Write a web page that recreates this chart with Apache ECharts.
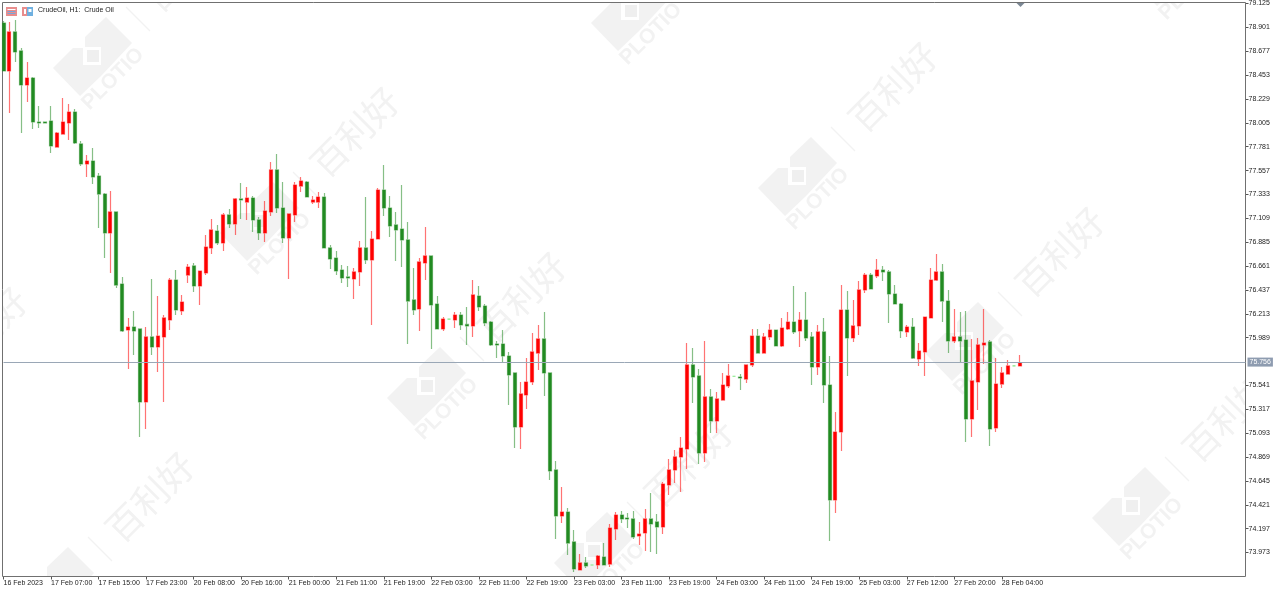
<!DOCTYPE html>
<html><head><meta charset="utf-8"><style>html,body{margin:0;padding:0;background:#fff}#c{width:1282px;height:590px}</style>
<script src="https://cdn.jsdelivr.net/npm/echarts@6/dist/echarts.min.js"></script></head><body><div id="c"></div>
<script>
const chartTitle = "CrudeOil, H1:  Crude Oil";
const lastPrice = 75.756;
const timeLabels = ["16 Feb 2023","17 Feb 07:00","17 Feb 15:00","17 Feb 23:00","20 Feb 08:00","20 Feb 16:00","21 Feb 00:00","21 Feb 11:00","21 Feb 19:00","22 Feb 03:00","22 Feb 11:00","22 Feb 19:00","23 Feb 03:00","23 Feb 11:00","23 Feb 19:00","24 Feb 03:00","24 Feb 11:00","24 Feb 19:00","25 Feb 03:00","27 Feb 12:00","27 Feb 20:00","28 Feb 04:00"];
const priceTicks = [79.125,78.901,78.677,78.453,78.229,78.005,77.781,77.557,77.333,77.109,76.885,76.661,76.437,76.213,75.989,75.541,75.317,75.093,74.869,74.645,74.421,74.197,73.973];
const opens = [78.942,78.492,78.858,78.680,78.360,78.426,78.013,78.013,78.022,77.778,
77.900,78.004,78.107,77.807,77.619,77.647,77.506,77.337,76.972,77.169,
76.493,76.061,76.089,76.071,75.386,75.996,75.902,75.996,76.155,76.530,
76.240,76.577,76.662,76.474,76.596,76.831,76.990,76.878,77.141,77.056,
77.291,77.262,77.300,77.094,76.972,77.169,77.563,77.206,76.925,77.141,
77.412,77.450,77.262,77.262,77.309,76.831,76.737,76.624,76.559,76.540,
76.606,76.831,76.718,76.915,77.375,77.206,77.047,77.009,76.906,76.343,
76.258,76.690,76.756,76.305,76.071,76.164,76.155,76.202,76.113,76.099,
76.380,76.286,76.136,75.930,75.930,75.817,75.658,75.151,75.451,75.573,
75.845,75.977,75.658,74.748,74.316,74.353,74.072,73.809,73.875,73.856,
73.856,73.931,73.865,74.194,74.325,74.297,74.288,74.128,74.156,74.288,
74.260,74.213,74.607,74.748,74.870,74.945,75.733,75.630,74.907,75.433,
75.207,75.404,75.536,75.627,75.620,75.601,75.733,76.005,75.845,75.996,
76.061,75.911,76.071,76.136,76.052,76.155,75.996,75.714,76.043,75.545,
74.466,75.104,76.249,75.986,76.099,76.437,76.577,76.568,76.624,76.606,
76.399,76.305,76.043,76.089,75.789,75.855,76.174,76.530,76.606,76.333,
75.958,75.996,75.967,75.226,75.573,75.921,75.949,75.142,75.554,75.648,
75.724,75.724];
const closes = [78.492,78.858,78.670,78.360,78.426,78.013,78.004,78.004,77.788,77.910,
78.013,78.107,77.816,77.619,77.647,77.497,77.337,76.972,77.169,76.483,
76.052,76.089,76.052,75.386,75.996,75.902,76.005,76.174,76.530,76.249,
76.324,76.652,76.474,76.615,76.840,77.000,76.878,77.141,77.056,77.291,
77.281,77.300,77.094,76.972,77.178,77.563,77.206,76.925,77.150,77.422,
77.459,77.309,77.281,77.309,76.831,76.728,76.615,76.549,76.549,76.606,
76.831,76.718,76.915,77.375,77.206,77.037,77.000,76.906,76.333,76.249,
76.700,76.756,76.296,76.071,76.164,76.164,76.202,76.108,76.099,76.390,
76.277,76.127,75.921,75.921,75.817,75.639,75.151,75.461,75.573,75.855,
75.977,75.658,74.738,74.316,74.353,74.062,73.819,73.875,73.847,73.856,
73.940,73.856,74.203,74.325,74.288,74.288,74.119,74.147,74.288,74.241,
74.213,74.616,74.748,74.870,74.954,75.733,75.620,74.907,75.433,75.207,
75.414,75.545,75.630,75.627,75.611,75.733,76.005,75.845,75.996,76.061,
75.911,76.080,76.136,76.043,76.155,75.986,75.714,76.043,75.545,74.466,
75.104,76.249,75.986,76.099,76.437,76.577,76.446,76.624,76.606,76.399,
76.305,76.052,76.089,75.798,75.864,76.183,76.530,76.606,76.333,75.958,
75.996,75.958,75.226,75.583,75.921,75.939,75.132,75.554,75.658,75.724,
75.724,75.756];
const lows = [78.492,78.098,78.576,77.910,78.201,77.947,77.957,78.004,77.722,77.778,
77.900,77.844,77.807,77.600,77.497,77.431,77.018,76.737,76.596,76.455,
76.043,75.695,75.827,75.057,75.132,75.827,75.667,75.386,76.061,76.202,
76.202,76.502,76.418,76.296,76.577,76.775,76.859,76.803,77.018,76.953,
77.103,77.094,76.981,76.906,76.887,77.131,77.159,76.878,76.540,77.075,
77.356,77.309,77.244,77.206,76.831,76.634,76.577,76.502,76.465,76.352,
76.474,76.681,76.108,76.915,77.131,76.934,76.709,76.652,75.930,76.202,
76.052,76.530,75.883,76.071,76.052,76.164,76.080,76.061,75.921,75.996,
76.240,76.099,75.911,75.798,75.761,75.357,74.954,74.945,75.320,75.545,
75.686,75.442,74.654,74.100,74.250,73.950,73.790,73.809,73.828,73.856,
73.819,73.856,73.837,74.091,74.250,74.203,74.100,74.044,73.987,73.978,
73.959,74.147,74.513,74.626,74.541,74.757,75.376,74.804,74.823,75.095,
75.095,75.404,75.517,75.627,75.498,75.564,75.714,75.845,75.845,75.967,
75.911,75.902,76.061,76.024,75.902,75.958,75.545,75.639,75.376,74.081,
74.344,74.926,75.630,75.949,76.014,76.408,76.446,76.549,76.521,76.127,
76.305,75.986,75.996,75.789,75.724,75.630,76.174,76.521,76.136,75.845,
75.939,75.761,75.010,75.057,75.311,75.742,74.973,75.104,75.517,75.648,
75.724,75.724];
const highs = [78.961,78.951,78.970,78.708,78.576,78.435,78.163,78.013,78.163,77.919,
78.238,78.182,78.135,77.835,77.703,77.769,77.535,77.347,77.366,77.169,
76.559,76.174,76.240,76.071,76.089,76.540,76.380,76.202,76.549,76.624,
76.390,76.681,76.690,76.615,76.953,77.103,77.047,77.159,77.197,77.300,
77.441,77.403,77.319,77.122,77.272,77.638,77.713,77.450,77.150,77.450,
77.497,77.459,77.319,77.356,77.347,76.859,76.803,76.671,76.662,76.643,
76.897,77.309,76.990,77.394,77.610,77.319,77.169,77.422,77.075,76.643,
76.737,77.028,76.756,76.380,76.183,76.164,76.230,76.230,76.277,76.530,
76.474,76.305,76.146,75.958,76.061,75.855,75.658,75.573,75.798,76.033,
76.108,76.230,75.658,74.832,74.588,74.391,74.184,73.959,73.931,73.856,
73.950,74.062,74.241,74.353,74.363,74.344,74.363,74.260,74.382,74.532,
74.335,74.635,74.851,74.935,75.057,75.939,75.892,75.695,75.958,75.508,
75.479,75.658,75.742,75.627,75.648,75.733,76.071,76.071,76.033,76.118,
76.061,76.174,76.230,76.474,76.230,76.418,76.043,76.108,76.174,75.817,
75.292,76.483,76.427,76.343,76.521,76.596,76.596,76.728,76.662,76.624,
76.483,76.315,76.108,76.174,75.939,76.183,76.643,76.775,76.681,76.437,
76.258,76.230,76.240,75.977,75.986,76.258,75.967,75.798,75.714,75.780,
75.724,75.827];

const TICK_EVERY = 8, SLOTS = 210;
const categories = Array.from({length: SLOTS}, (_, i) => i % TICK_EVERY === 0 && timeLabels[i / TICK_EVERY] ? timeLabels[i / TICK_EVERY] : "");
const candles = opens.map((o, i) => [o, closes[i], lows[i], highs[i]]);
const isLabelled = i => categories[i] !== "";

// watermark decoration
const wmColor = "#f2f2f2";
const marks = [[93,55],[260,220],[427,385],[594,550],[631,10],[798,175],[965,340],[1132,505],[1170,-35],[-112,420],[55,585]];
function wm([x, y]) {
  const P = pts => ({type:"polygon", z:-3, silent:true, shape:{points:pts.map(p=>[x+p[0],y+p[1]])}, style:{fill:wmColor}});
  return [
    P([[-8,-18],[13,-38],[39,-12],[8,21],[8,-8],[-8,-8]]),
    P([[-40,13],[-20,-7],[-10,-7],[-10,10],[8,10],[8,21],[-13,41]]),
    {type:"rect", z:-3, silent:true, shape:{x:x-6,y:y-5,width:12,height:12}, style:{fill:"#efefef"}},
    {type:"text", z:-3, silent:true, x:x+20, y:y+24, rotation:Math.PI/4, style:{text:"PLOTIO", fill:wmColor, font:"bold 21px 'Liberation Sans'", align:"center", verticalAlign:"middle"}},
    {type:"line", z:-3, silent:true, shape:{x1:x+33,y1:y-48,x2:x+57,y2:y-24}, style:{stroke:wmColor, lineWidth:1.2}},
    {type:"text", z:-3, silent:true, x:x+95, y:y-88, rotation:Math.PI/4, style:{text:"百利好", fill:wmColor, font:"36px 'Noto Sans CJK SC'", align:"center", verticalAlign:"middle"}}
  ];
}
const R = (x,y,w,h,c,z) => ({type:"rect", silent:true, z:z===undefined?5:z, shape:{x,y,width:w,height:h}, style:{fill:c}});
const graphics = [
  ...marks.flatMap(wm),
  R(0,0,1282,2,"#fff",-1), R(0,577,1282,13,"#fff",-1), R(1246,0,36,590,"#fff",-1), R(0,0,2,590,"#fff",-1),
  {type:"rect", silent:true, z:1, shape:{x:2.5,y:2.5,width:1243,height:574}, style:{fill:"none",stroke:"#707070",lineWidth:1}},
  // window icons
  R(6,7,11,9,"#e98d8d"), R(7.5,9,8,1,"#fff"), R(7.5,11,8,1,"#7aa6d8"), R(7.5,13,8,1,"#7aa6d8"),
  R(22,7,5,9,"#e98d8d"), R(27,7,6,9,"#6fb0e0"), R(24,9,2,5,"#fff"), R(28.5,9,3,3,"#fff"),
  {type:"polygon", silent:true, z:5, shape:{points:[[1016.5,3],[1024.5,3],[1020.5,7]]}, style:{fill:"#7b8794"}}
];

const chart = echarts.init(document.getElementById("c"), null, {renderer:"canvas"});
chart.setOption({
  animation:false, backgroundColor:"#fff",
  title:{text:chartTitle, left:38, top:7, padding:0, textStyle:{fontSize:7, fontWeight:"normal", color:"#222", fontFamily:"'Liberation Sans'"}},
  graphic:graphics,
  grid:{left:3.5, right:36.5, top:2.5, bottom:13.5, show:false},
  xAxis:{type:"category", data:categories, boundaryGap:false,
    axisLine:{show:false},
    axisTick:{interval:i=>isLabelled(i), length:3, lineStyle:{color:"#555"}},
    axisLabel:{interval:i=>isLabelled(i), align:"left", margin:3, fontSize:7, color:"#222", fontFamily:"'Liberation Sans'", hideOverlap:false},
    splitLine:{show:false}},
  yAxis:{type:"value", position:"right", scale:true, min:73.748, max:79.134,
    axisLine:{show:false},
    axisTick:{show:true, length:3, customValues:priceTicks, lineStyle:{color:"#555"}},
    axisLabel:{margin:3, fontSize:7, color:"#222", fontFamily:"'Liberation Sans'", customValues:priceTicks, formatter:v=>v.toFixed(3), showMinLabel:true, showMaxLabel:true},
    splitLine:{show:false}},
  series:[{type:"candlestick", data:candles, barWidth:3.5,
    itemStyle:{color:"#ff0000", color0:"#228b22", borderColor:"rgba(255,0,0,.55)", borderColor0:"rgba(34,139,34,.55)", borderColorDoji:"#7fe87f", borderWidth:1.2},
    markLine:{silent:true, symbol:"none", animation:false,
      lineStyle:{color:"#9aa7b6", width:1, type:"solid"},
      label:{show:true, position:"end", formatter:()=>lastPrice.toFixed(3), backgroundColor:"#8e9cb0", color:"#fff", fontSize:7, fontFamily:"'Liberation Sans'", padding:[1,2], distance:2},
      data:[{yAxis:lastPrice}]}
  }]
});
</script></body></html>
